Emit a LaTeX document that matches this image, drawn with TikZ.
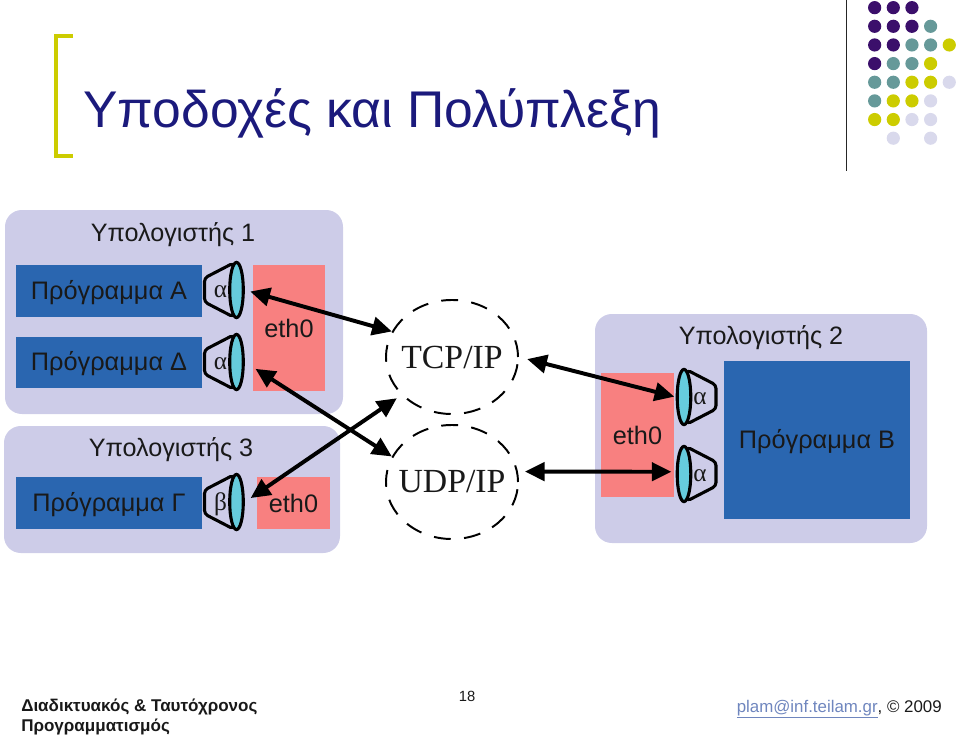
\documentclass[tikz,border=0pt]{standalone}
\usepackage{fontspec}
\setmainfont{Liberation Sans}
\newfontfamily\labelserif{Liberation Serif}
\usepackage{xcolor}
\usetikzlibrary{arrows.meta}
\usetikzlibrary{shapes.geometric}
\definecolor{titleblue}{HTML}{1B1A7C}
\definecolor{hostfill}{HTML}{CDCCE8}
\definecolor{progfill}{HTML}{2A66B0}
\definecolor{ethfill}{HTML}{F88080}
\definecolor{lensfill}{HTML}{66CCDD}
\definecolor{dotP}{HTML}{3B0F6B}
\definecolor{dotT}{HTML}{669999}
\definecolor{dotY}{HTML}{CCCC00}
\definecolor{dotL}{HTML}{D9D9EC}
\definecolor{maillink}{HTML}{6F86BE}
\newcommand{\pxfont}[1]{\fontsize{#1}{#1}\selectfont}
% socket: name, x, y, side (-1 funnel left, 1 funnel right), letter
\newcommand{\socket}[5]{
\begin{scope}[shift={(#2,#3)}]
\filldraw[fill=hostfill,draw=black,line width=2.2pt,line join=round,rounded corners=2.5pt] (#4*3,-27) -- (#4*32,-12) -- (#4*32,12) -- (#4*3,27) -- cycle;
\node[socklabel] at (#4*16,2) {#5};
\node[lens] (#1) at (0,0) {};
\end{scope}
}
\begin{document}
\begin{tikzpicture}[x=0.025cm,y=-0.025cm]
\tikzstyle{every node}=[text=black!90]
\tikzstyle{hostlabel}=[font=\pxfont{17.9},text height=14pt,text depth=2pt]
\tikzstyle{progbox}=[fill=progfill,font=\pxfont{18},text height=14pt,text depth=2pt,minimum width=4.65cm,minimum height=1.29cm,inner sep=0pt]
\tikzstyle{ethbox}=[fill=ethfill,font=\pxfont{18},inner sep=0pt]
\tikzstyle{lens}=[ellipse,fill=lensfill,draw=black,line width=2.2pt,minimum width=0.34cm,minimum height=1.38cm,inner sep=0pt]
\tikzstyle{socklabel}=[font=\labelserif\pxfont{18},inner sep=0pt]
\tikzstyle{stack}=[ellipse,draw=black,line width=1.4pt,dash pattern=on 12pt off 9.5pt,minimum width=3.3cm,minimum height=2.85cm,inner sep=0pt]
\tikzstyle{stacklabel}=[font=\labelserif\pxfont{24},inner sep=0pt]
\tikzstyle{link}=[line width=2.8pt,arrows={Triangle[length=14pt,width=13pt]-Triangle[length=14pt,width=13pt]}]
\tikzstyle{dot}=[circle,minimum size=0.33cm,inner sep=0pt]
\useasboundingbox (0,0) rectangle (960,736);

% header
\draw[dotY,line width=3pt] (73,36) -- (56,36) -- (56,156) -- (73,156);
\node[anchor=base west,inner sep=0pt,text=titleblue,font=\pxfont{36.7}] (title) at (83,127) {Υποδοχές και Πολύπλεξη};
\draw[black!85,line width=1.3pt] (846.5,0) -- (846.5,171);
\foreach \row/\col/\tone in {1/1/P,1/2/P,1/3/P,2/1/P,2/2/P,2/3/P,2/4/T,3/1/P,3/2/P,3/3/T,3/4/T,3/5/Y,4/1/P,4/2/T,4/3/T,4/4/Y,5/1/T,5/2/T,5/3/Y,5/4/Y,5/5/L,6/1/T,6/2/Y,6/3/Y,6/4/L,7/1/Y,7/2/Y,7/3/L,7/4/L,8/2/L,8/4/L}
  \node[dot,fill=dot\tone] (dot\row\col) at (856+18.65*\col,-11+18.65*\row) {};

% hosts
\fill[hostfill,rounded corners=0.42cm] (5,210) rectangle (343,414);
\fill[hostfill,rounded corners=0.42cm] (4,426) rectangle (340,553);
\fill[hostfill,rounded corners=0.42cm] (595,314) rectangle (927,543);
\node[hostlabel] (host1) at (173,233) {Υπολογιστής 1};
\node[hostlabel] (host3) at (171,448) {Υπολογιστής 3};
\node[hostlabel] (host2) at (761,336) {Υπολογιστής 2};

\node[progbox] (proga) at (109,291) {Πρόγραμμα Α};
\node[progbox] (progd) at (109,362.5) {Πρόγραμμα Δ};
\node[progbox] (progg) at (109,503) {Πρόγραμμα Γ};
\node[progbox,minimum height=3.95cm] (progb) at (817,440) {Πρόγραμμα Β};

\node[ethbox,minimum width=1.8cm,minimum height=3.15cm] (eth1) at (289,328) {eth0};
\node[ethbox,minimum width=1.83cm,minimum height=1.3cm] (eth3) at (293.5,503) {eth0};
\node[ethbox,minimum width=1.83cm,minimum height=3.1cm] (eth2) at (637.5,435) {eth0};

\socket{socka}{236.5}{290}{-1}{α}
\socket{sockd}{236.5}{362}{-1}{α}
\socket{sockg}{236.5}{502}{-1}{β}
\socket{sockbt}{684}{397}{1}{α}
\socket{sockbu}{684}{474}{1}{α}

\node[stack] (tcp) at (452,357) {};
\node[stack] (udp) at (452,482) {};
\node[stacklabel] (tcptext) at (tcp) {TCP/IP};
\node[stacklabel] (udptext) at (udp) {UDP/IP};

% links
\draw[link,shorten <=4pt] (socka.east) -- (tcp.157);
\draw[link,shorten <=9pt] (sockd.east) -- (udp.157);
\draw[link,shorten <=5pt,shorten >=4pt] (sockg.east) -- (tcp.217);
\draw[link,shorten <=6pt,shorten >=1pt] (tcp.east) -- (sockbt.west);
\draw[link,shorten <=5pt,shorten >=3pt] (udp.9) -- (sockbu.165);

% footer
\node[anchor=base west,inner sep=0pt,align=left,font=\bfseries\pxfont{12.1}] (course) at (21,731) {Διαδικτυακός \& Ταυτόχρονος\\[2pt]Προγραμματισμός};
\node[font=\pxfont{10.5},inner sep=0pt] (page) at (467,696) {18};
\node[anchor=base east,inner sep=0pt,font=\pxfont{12}] (mail) at (942,712) {\textcolor{maillink}{\underline{plam@inf.teilam.gr}}, © 2009};
\end{tikzpicture}
\end{document}
